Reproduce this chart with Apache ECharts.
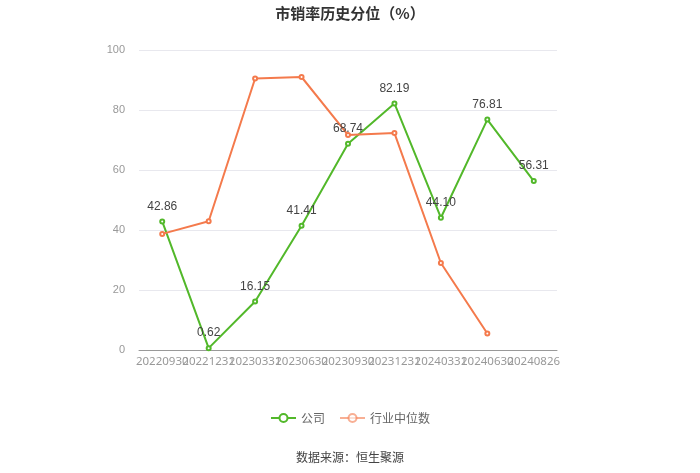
<!DOCTYPE html>
<html><head><meta charset="utf-8">
<script src="https://cdn.jsdelivr.net/npm/echarts@6/dist/echarts.min.js"></script>
<style>html,body{margin:0;padding:0;background:#fff}#c{width:700px;height:473px}</style>
</head><body><div id="c"></div>
<script>
var categories = ['20220930','20221231','20230331','20230630','20230930','20231231','20240331','20240630','20240826'];
var company = [42.86, 0.62, 16.15, 41.41, 68.74, 82.19, 44.10, 76.81, 56.31];
var industry = [38.7, 42.9, 90.5, 91.0, 71.7, 72.3, 29.0, 5.5, null];
var yTicks = [0, 20, 40, 60, 80, 100];
var chart = echarts.init(document.getElementById('c'));
chart.setOption({
  animation: false,
  title: {text: '市销率历史分位（%）', left: 'center', top: 1,
    textStyle: {fontSize: 15, fontWeight: 'bold', color: '#333', fontFamily: 'Noto Sans CJK SC'}},
  legend: {bottom: 44, itemGap: 14, itemWidth: 25, itemHeight: 10,
    textStyle: {color: '#666', fontSize: 12, fontFamily: 'Noto Sans CJK SC'},
    data: ['公司', {name: '行业中位数', itemStyle: {opacity: 0.6}, lineStyle: {opacity: 0.6}}]},
  grid: {left: 139, right: 143, top: 50, bottom: 123},
  xAxis: {type: 'category', data: categories, boundaryGap: true,
    axisTick: {alignWithLabel: true, lineStyle: {color: '#999'}},
    axisLine: {lineStyle: {color: '#999'}},
    axisLabel: {interval: 0, color: '#999', fontSize: 11.5, margin: 6, fontFamily: 'Noto Sans'}},
  yAxis: {type: 'value', min: yTicks[0], max: yTicks[yTicks.length-1], interval: 20,
    axisLabel: {color: '#999', fontSize: 11, margin: 14},
    splitLine: {lineStyle: {color: '#e8e8ee'}},
    axisLine: {show: false}, axisTick: {show: false}},
  series: [
    {name: '公司', type: 'line', data: company, symbol: 'emptyCircle', symbolSize: 4,
     itemStyle: {color: '#52b82a'}, lineStyle: {width: 2, color: '#52b82a'},
     label: {show: true, position: 'top', color: '#444', fontSize: 12, distance: 6,
       formatter: function(p){return p.value.toFixed(2);}}},
    {name: '行业中位数', type: 'line', data: industry, symbol: 'emptyCircle', symbolSize: 4,
     itemStyle: {color: '#f47a4c'}, lineStyle: {width: 2, color: '#f47a4c'}}
  ],
  graphic: [{type: 'text', left: 'center', top: 451,
    style: {text: '数据来源：恒生聚源', fill: '#444', fontSize: 12, fontFamily: 'Noto Sans CJK SC'}}]
});
</script></body></html>
